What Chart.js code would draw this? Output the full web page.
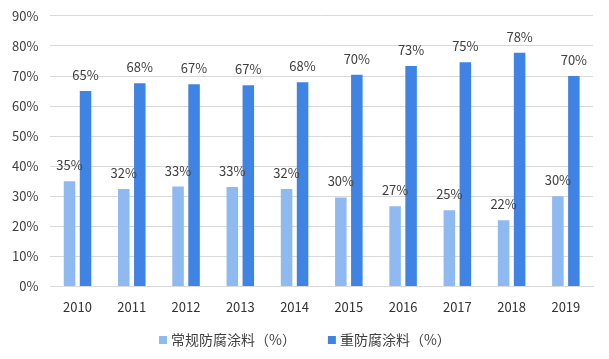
<!DOCTYPE html>
<html><head><meta charset="utf-8">
<script src="https://cdn.jsdelivr.net/npm/chart.js@4"></script>
<style>html,body{margin:0;padding:0;background:#fff}#wrap{width:609px;height:359px}</style>
</head><body><div id="wrap"><canvas id="c" width="609" height="359"></canvas></div>
<script>
const categories = ['2010','2011','2012','2013','2014','2015','2016','2017','2018','2019'];
const regularCoating = [35, 32.4, 33.2, 33.1, 32.4, 29.6, 26.7, 25.3, 22, 30];
const heavyCoating = [65, 67.6, 67.3, 66.9, 67.9, 70.4, 73.3, 74.6, 77.7, 70];
const seriesNames = ['常规防腐涂料（%）', '重防腐涂料（%）'];
const yTicks = [0,10,20,30,40,50,60,70,80,90];

const FONT = '"Noto Sans CJK SC", "Noto Sans", sans-serif';

const labelPlugin = {
  id: 'valueLabels',
  afterDatasetsDraw(chart) {
    const ctx = chart.ctx;
    ctx.save();
    ctx.font = '13px ' + FONT;
    ctx.fillStyle = '#404040';
    ctx.textAlign = 'center';
    ctx.textBaseline = 'middle';
    chart.data.datasets.forEach((ds, i) => {
      chart.getDatasetMeta(i).data.forEach((bar, j) => {
        ctx.fillText(Math.round(ds.data[j]) + '%', bar.x, bar.y - 16);
      });
    });
    ctx.restore();
  }
};

const legendPlugin = {
  id: 'customLegend',
  afterDraw(chart) {
    const ctx = chart.ctx;
    ctx.save();
    ctx.font = '14px ' + FONT;
    ctx.textBaseline = 'middle';
    const box = 8, gapText = 4, gapItem = 32;
    const items = chart.data.datasets.map(ds => ({ text: ds.label, color: ds.backgroundColor, w: ctx.measureText(ds.label).width }));
    let total = 0;
    items.forEach((it, i) => { total += box + gapText + it.w + (i < items.length - 1 ? gapItem : 0); });
    let x = Math.round(chart.width / 2 - total / 2);
    const y = 340;
    items.forEach(it => {
      ctx.fillStyle = it.color;
      ctx.fillRect(x, y - box / 2, box, box);
      x += box + gapText;
      ctx.fillStyle = '#404040';
      ctx.textAlign = 'left';
      ctx.fillText(it.text, x, y);
      x += it.w + gapItem;
    });
    ctx.restore();
  }
};

new Chart(document.getElementById('c'), {
  type: 'bar',
  data: {
    labels: categories,
    datasets: [
      { label: seriesNames[0], data: regularCoating, backgroundColor: '#8FB9F1', barPercentage: 0.72, categoryPercentage: 0.59 },
      { label: seriesNames[1], data: heavyCoating, backgroundColor: '#3F84E4', barPercentage: 0.72, categoryPercentage: 0.59 }
    ]
  },
  options: {
    responsive: false,
    animation: false,
    layout: { padding: { left: 0, right: 16, top: 0, bottom: 39 } },
    plugins: {
      tooltip: { enabled: false },
      legend: { display: false }
    },
    scales: {
      x: {
        grid: { display: false },
        border: { color: '#d9d9d9' },
        ticks: { color: '#333333', font: { size: 13, family: FONT }, padding: 5 }
      },
      y: {
        min: 0, max: 90,
        afterBuildTicks(axis) { axis.ticks = yTicks.map(v => ({ value: v })); },
        grid: { color: '#d9d9d9', drawTicks: false },
        border: { display: false },
        ticks: { color: '#404040', font: { size: 13, family: FONT, lineHeight: 0.6 }, padding: 12, callback: v => v + '%' }
      }
    }
  },
  plugins: [labelPlugin, legendPlugin]
});
</script></body></html>
